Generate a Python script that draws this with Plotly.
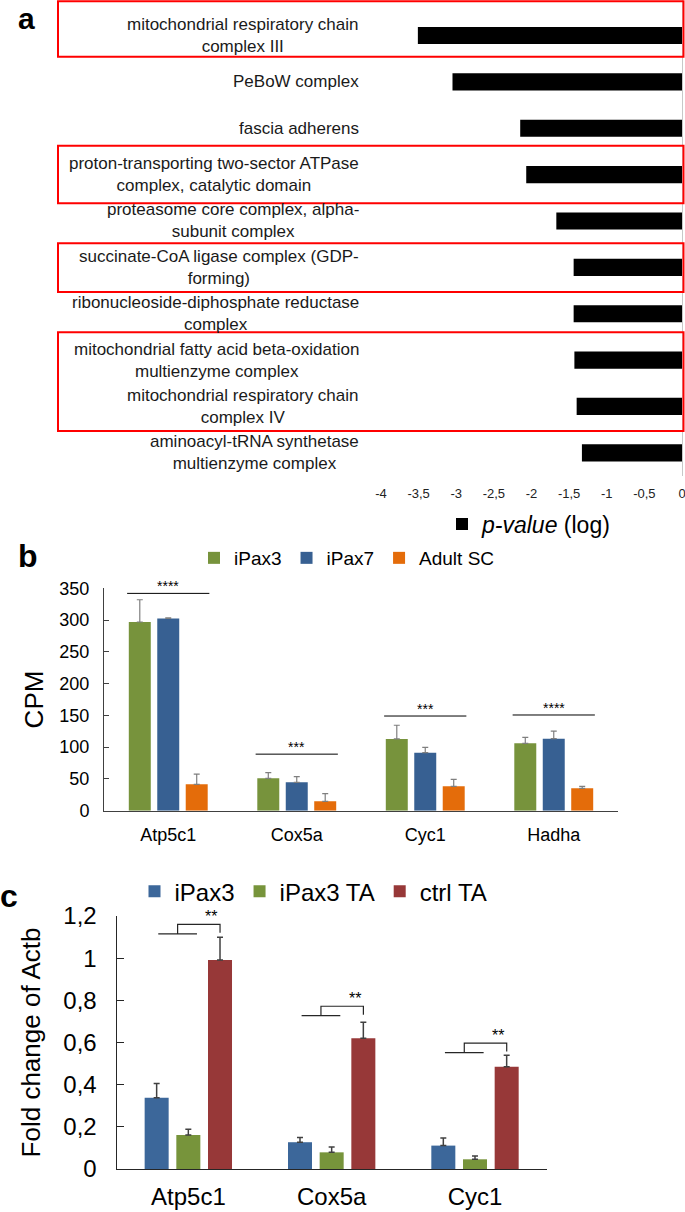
import plotly.graph_objects as go

W, H = 685, 1212
FONT = "Liberation Sans, Arial, sans-serif"

# ---------------- Panel a data ----------------
go_terms = [
    "mitochondrial respiratory chain<br>complex III",
    "PeBoW complex",
    "fascia adherens",
    "proton-transporting two-sector ATPase<br>complex, catalytic domain",
    "proteasome core complex, alpha-<br>subunit complex",
    "succinate-CoA ligase complex (GDP-<br>forming)",
    "ribonucleoside-diphosphate reductase<br>complex",
    "mitochondrial fatty acid beta-oxidation<br>multienzyme complex",
    "mitochondrial respiratory chain<br>complex IV",
    "aminoacyl-tRNA synthetase<br>multienzyme complex",
]
log_p = [-3.51, -3.05, -2.15, -2.07, -1.67, -1.44, -1.44, -1.43, -1.40, -1.33]
a_tickvals = [-4, -3.5, -3, -2.5, -2, -1.5, -1, -0.5, 0]
a_ticktext = ["-4", "-3,5", "-3", "-2,5", "-2", "-1,5", "-1", "-0,5", "0"]
highlighted = [[0], [3], [5], [7, 8]]   # boxed GO terms (indices)

# ---------------- Panel b data ----------------
b_genes = ["Atp5c1", "Cox5a", "Cyc1", "Hadha"]
b_ipax3 = [297, 51, 113, 106]
b_ipax3_err = [35, 9, 21.5, 9.5]
b_ipax7 = [302.5, 44.7, 91.3, 113.3]
b_ipax7_err = [1, 9, 8.5, 12]
b_adult = [41.5, 14.8, 38.4, 35.2]
b_adult_err = [16, 12, 11, 3]
b_sig_y = [342, 89, 149, 150.6]
b_sig_label = ["****", "***", "***", "****"]
b_tickvals = [0, 50, 100, 150, 200, 250, 300, 350]
b_ticktext = ["0", "50", "100", "150", "200", "250", "300", "350"]

# ---------------- Panel c data ----------------
c_genes = ["Atp5c1", "Cox5a", "Cyc1"]
c_ipax3 = [0.338, 0.127, 0.111]
c_ipax3_err = [0.068, 0.022, 0.036]
c_ipax3ta = [0.161, 0.079, 0.046]
c_ipax3ta_err = [0.027, 0.025, 0.016]
c_ctrlta = [0.991, 0.620, 0.485]
c_ctrlta_err = [0.108, 0.076, 0.054]
c_sig_y = [1.115, 0.727, 0.552]
c_sig_label = ["**", "**", "**"]
c_tickvals = [0, 0.2, 0.4, 0.6, 0.8, 1, 1.2]
c_ticktext = ["0", "0,2", "0,4", "0,6", "0,8", "1", "1,2"]

GREEN_B, BLUE_B, ORANGE_B = "#77933C", "#376092", "#E46C0A"
BLUE_C, GREEN_C, RED_C = "#3C679A", "#77943B", "#973838"

def px(x):
    return x / W

def py(y):
    return 1 - y / H

fig = go.Figure()

# ---- Panel a bars ----
fig.add_trace(go.Bar(
    y=go_terms, x=log_p, orientation="h",
    marker=dict(color="black", line=dict(width=0)),
    name="<i>p-value</i> (log)", legend="legend",
    xaxis="x", yaxis="y", hoverinfo="skip",
))

# ---- Panel b bars ----
xb = list(range(len(b_genes)))
b_width = 0.171
for vals, errs, name, col, off in [
    (b_ipax3, b_ipax3_err, "iPax3", GREEN_B, -0.3070),
    (b_ipax7, b_ipax7_err, "iPax7", BLUE_B, -0.0855),
    (b_adult, b_adult_err, "Adult SC", ORANGE_B, 0.1360),
]:
    fig.add_trace(go.Bar(
        x=xb, y=vals, width=b_width, offset=off, name=name,
        marker=dict(color=col, line=dict(width=0)),
        error_y=dict(type="data", array=errs, arrayminus=[0] * len(errs),
                     symmetric=False, color="#7f7f7f", thickness=1.2, width=3),
        legend="legend2", xaxis="x2", yaxis="y2", hoverinfo="skip",
    ))

# significance lines b
sx, sy = [], []
for i, h in enumerate(b_sig_y):
    sx += [i - 0.32, i + 0.32, None]
    sy += [h, h, None]
fig.add_trace(go.Scatter(x=sx, y=sy, mode="lines", line=dict(color="black", width=1),
                         showlegend=False, hoverinfo="skip", xaxis="x2", yaxis="y2"))

# ---- Panel c bars ----
xc = list(range(len(c_genes)))
c_width = 0.1675
for vals, errs, name, col, off in [
    (c_ipax3, c_ipax3_err, "iPax3", BLUE_C, -0.305),
    (c_ipax3ta, c_ipax3ta_err, "iPax3 TA", GREEN_C, -0.084),
    (c_ctrlta, c_ctrlta_err, "ctrl TA", RED_C, 0.137),
]:
    fig.add_trace(go.Bar(
        x=xc, y=vals, width=c_width, offset=off, name=name,
        marker=dict(color=col, line=dict(width=0)),
        error_y=dict(type="data", array=errs, arrayminus=[0] * len(errs),
                     symmetric=False, color="#404040", thickness=1.5, width=3),
        legend="legend3", xaxis="x3", yaxis="y3", hoverinfo="skip",
    ))

# brackets c
bx, by = [], []
for i, h in enumerate(c_sig_y):
    bx += [i - 0.21, i + 0.06, None, i - 0.075, i - 0.075, i + 0.221, i + 0.221, None]
    by += [h, h, None, h, h + 0.045, h + 0.045, h + 0.005, None]
fig.add_trace(go.Scatter(x=bx, y=by, mode="lines", line=dict(color="#262626", width=1.2),
                         showlegend=False, hoverinfo="skip", xaxis="x3", yaxis="y3"))

annotations = []
# GO term labels
for t in go_terms:
    annotations.append(dict(
        x=px(361), xref="paper", xanchor="right", y=t, yref="y", yanchor="middle",
        text=t, showarrow=False, align="center",
        font=dict(size=17, color="#1a1a1a", family=FONT),
    ))
# stars b
for i, (h, lab) in enumerate(zip(b_sig_y, b_sig_label)):
    annotations.append(dict(x=i, y=h, xref="x2", yref="y2", text=lab, showarrow=False,
                            yanchor="bottom", yshift=-3,
                            font=dict(size=14, color="black", family=FONT)))
# stars c
for i, (h, lab) in enumerate(zip(c_sig_y, c_sig_label)):
    annotations.append(dict(x=i + 0.16, y=h + 0.045, xref="x3", yref="y3", text=lab,
                            showarrow=False, yanchor="bottom", yshift=-3,
                            font=dict(size=16, color="black", family=FONT)))
# panel letters
annotations.append(dict(x=px(26.5), y=1, xref="paper", yref="paper", text="<b>a</b>",
                        showarrow=False, xanchor="center", yanchor="top",
                        font=dict(size=30, color="black", family=FONT)))
for lab, x, y in [("b", 28, 556), ("c", 8.5, 896)]:
    annotations.append(dict(x=px(x), y=py(y), xref="paper", yref="paper", text="<b>%s</b>" % lab,
                            showarrow=False, xanchor="center", yanchor="middle",
                            font=dict(size=32, color="black", family=FONT)))

# red highlight boxes
box_pad = [(-0.74, 0.46), (-0.62, 0.62), (-0.52, 0.53), (-0.60, 0.53)]
shapes = []
for grp, (p0, p1) in zip(highlighted, box_pad):
    shapes.append(dict(type="rect", xref="paper", yref="y",
                       x0=px(58), x1=px(683.5), y0=grp[0] + p0, y1=grp[-1] + p1,
                       line=dict(color="#ff0000", width=2), fillcolor="rgba(0,0,0,0)"))

common = dict(automargin=False, showgrid=False, zeroline=False, fixedrange=True)

# panel a: one category step is 46.35 px, first bar centre 35.5 px from the top
a_top_pad = 35.5 / 46.35

fig.update_layout(
    template="none",
    width=W, height=H, margin=dict(l=0, r=0, t=0, b=0, pad=0, autoexpand=False),
    paper_bgcolor="white", plot_bgcolor="white",
    font=dict(family=FONT, color="black"),
    bargap=0.63, barmode="group", showlegend=True,
    annotations=annotations, shapes=shapes,
    xaxis=dict(domain=[px(381), px(682)], range=[-4, 0], anchor="y",
               tickvals=a_tickvals, ticktext=a_ticktext,
               showline=False, ticks="", tickfont=dict(size=13, color="#222"),
               ticklabelstandoff=8, ticklabeloverflow="allow", **common),
    yaxis=dict(domain=[py(476), 1], anchor="x", type="category",
               categoryorder="array", categoryarray=go_terms,
               range=[len(go_terms) - 0.5, -a_top_pad], showticklabels=False,
               showline=True, side="right",
               linecolor="#c8c8c8", linewidth=1, ticks="", **common),
    xaxis2=dict(domain=[px(104), px(618)], range=[-0.5, len(b_genes) - 0.5], anchor="y2",
                tickvals=xb, ticktext=b_genes,
                showline=True, linecolor="#404040", linewidth=1, ticks="",
                tickfont=dict(size=18, color="black"), ticklabelstandoff=8, **common),
    yaxis2=dict(domain=[py(810.7), py(588.3)], range=[0, 350], anchor="x2",
                tickvals=b_tickvals, ticktext=b_ticktext,
                showline=True, linecolor="#404040", linewidth=1, ticks="inside",
                ticklen=5, tickcolor="#404040", tickfont=dict(size=18, color="black"),
                ticklabelstandoff=10,
                title=dict(text="CPM", font=dict(size=26, color="black"), standoff=8),
                **common),
    xaxis3=dict(domain=[px(116.7), px(546.7)], range=[-0.5, len(c_genes) - 0.5], anchor="y3",
                tickvals=xc, ticktext=c_genes,
                showline=True, linecolor="#262626", linewidth=1.2, ticks="",
                tickfont=dict(size=24, color="black"), ticklabelstandoff=6, **common),
    yaxis3=dict(domain=[py(1169), py(916)], range=[0, 1.2], anchor="x3",
                tickvals=c_tickvals, ticktext=c_ticktext,
                showline=True, linecolor="#262626", linewidth=1.2, ticks="inside",
                ticklen=7, tickcolor="#262626", tickfont=dict(size=24, color="black"),
                ticklabelstandoff=14,
                title=dict(text="Fold change of Actb", font=dict(size=26, color="black"), standoff=15),
                **common),
    legend=dict(x=px(442), xanchor="left", y=py(524), yanchor="middle", orientation="h",
                font=dict(size=23, color="black"), bgcolor="rgba(0,0,0,0)"),
    legend2=dict(x=px(194), xanchor="left", y=py(558), yanchor="middle", orientation="h",
                 font=dict(size=19, color="black"), bgcolor="rgba(0,0,0,0)",
                 traceorder="normal"),
    legend3=dict(x=px(134.5), xanchor="left", y=py(891.7), yanchor="middle", orientation="h",
                 font=dict(size=24, color="black"), bgcolor="rgba(0,0,0,0)",
                 traceorder="normal"),
)

fig.write_html(
    "out.html",
    config={"displayModeBar": False, "staticPlot": True},
    post_script="document.body.style.margin='0';document.body.style.overflow='hidden';",
)
